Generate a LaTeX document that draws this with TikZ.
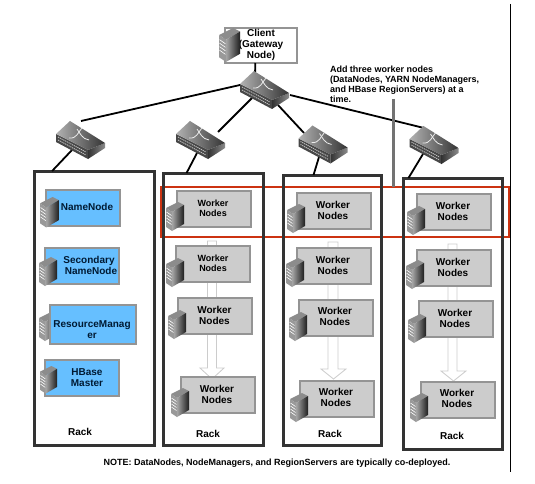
\documentclass[tikz,border=0pt]{standalone}
\usepackage{fontspec}
\setmainfont{Liberation Sans}
\usetikzlibrary{calc}
\definecolor{framegray}{HTML}{333333}
\definecolor{boxedge}{HTML}{949494}
\definecolor{workerfill}{HTML}{CCCCCC}
\definecolor{bluefill}{HTML}{66BFFF}
\definecolor{rednote}{HTML}{CC3311}
\definecolor{bluetext}{HTML}{001A33}
\tikzset{
  x=1pt,y=-1pt,
  every node/.style={outer sep=0pt,inner sep=0pt},
  big/.style={font=\bfseries\fontsize{10}{11}\selectfont,align=center},
  small/.style={font=\bfseries\fontsize{9}{10}\selectfont,align=center},
  rackbox/.style={draw=framegray,line width=3pt,rectangle},
  clientbox/.style={draw=boxedge,line width=2pt,fill=white,rectangle,minimum width=72pt,minimum height=35pt},
  workerbox/.style={draw=boxedge,line width=2pt,fill=workerfill,rectangle,minimum width=74pt,minimum height=36pt},
  bluebox/.style={draw=boxedge,line width=2pt,fill=bluefill,rectangle,minimum width=74pt,minimum height=36pt},
  switchbox/.style={rectangle,minimum width=50pt,minimum height=38pt},
  link/.style={black,line width=1.8pt},
  growth/.style={draw=black!20,fill=white,line width=.8pt},
}
% server icon: top-left position, scale
\newcommand{\srv}[2]{%
  \begin{scope}[shift={(#1)},scale=#2]
    \fill[black!45] (0,6)--(12,0)--(18,3)--(6,10)--cycle;
    \shade[left color=black!35,right color=black!88] (6,10)--(18,3)--(18,22)--(6,29)--cycle;
    \fill[black!40] (0,6)--(6,10)--(6,29)--(0,25)--cycle;
    \foreach \k in {12,15,18,21}{\draw[white,line width=.6pt] (0.5,\k-2)--(5.5,\k+1.5);}
  \end{scope}}
% switch artwork on a named switch node
\newcommand{\swart}[1]{%
  \begin{scope}[shift={(#1.center)}]
    \fill[black!72] (-25,-6)--(7,10)--(7,19)--(-25,2)--cycle;
    \shade[left color=black!80,right color=black!45] (7,10)--(24,3)--(24,8)--(7,19)--cycle;
    \shade[left color=black!30,right color=black!80] (-25,-6)--(-11,-19)--(24,3)--(7,10)--cycle;
    \draw[black!25,line width=.9pt,dash pattern=on 1.2pt off .8pt] (-23,-3)--(5,12);
    \draw[black!25,line width=.9pt,dash pattern=on 1.2pt off .8pt] (-23,0)--(5,15);
    \draw[black!8,line width=.8pt] (-12,-2) .. controls (-4,-1) and (-3,-8) .. (1,-12);
    \draw[black!8,line width=.8pt] (-4,-11) .. controls (-1,-7) and (1,-1) .. (8,0);
  \end{scope}}
% worker box: name, box centre, text centre
\newcommand{\wb}[4][big]{%
  \node[workerbox] (#2) at (#3) {};
  \node[#1] (#2t) at (#4) {Worker\\Nodes};}
\begin{document}
\begin{tikzpicture}
\useasboundingbox (0,0) rectangle (535,484);
\fill[white] (0,0) rectangle (535,484);

% switches and racks (nodes)
\node[switchbox] (s0) at (265,90) {};
\node[switchbox] (s1) at (81,140) {};
\node[switchbox] (s2) at (201,140) {};
\node[switchbox] (s3) at (323.5,144.5) {};
\node[switchbox] (s4) at (434.5,145) {};
\node[rectangle,draw=rednote,line width=2pt,minimum width=347.5pt,minimum height=49.5pt] (red) at (334.75,211.75) {};
\node[rackbox,minimum width=120pt,minimum height=274pt] (rack1) at (94,308) {};
\node[rackbox,minimum width=100pt,minimum height=272pt] (rack2) at (213,309) {};
\node[rackbox,minimum width=98pt,minimum height=270pt] (rack3) at (332.5,310) {};
\node[rackbox,minimum width=99pt,minimum height=271pt] (rack4) at (452.5,313.5) {};

% client
\node[clientbox] (client) at (261,45.5) {};
\node[big] (clientt) at (261,44.5) {Client\\(Gateway\\Node)};
\srv{219,28}{1.17}

% connectors
\draw[link] (client.-108) -- ([shift={(-10,-14)}]s0.center);
\draw[link] ([shift={(-25,-5)}]s0.center) -- ([shift={(0,-19)}]s1.center);
\draw[link] ([shift={(-13,8)}]s0.center) -- ([shift={(17,-8)}]s2.center);
\draw[link] ([shift={(13,15)}]s0.center) -- ([shift={(-19.5,-11.5)}]s3.center);
\draw[link] ([shift={(25,5)}]s0.center) -- ([shift={(-10.5,-17)}]s4.center);
\draw[link] ([shift={(-9,10)}]s1.center) -- (rack1.107.8);
\draw[link] ([shift={(-4,13)}]s2.center) -- (rack2.101.6);
\draw[link] ([shift={(-4.5,12.5)}]s3.center) -- (rack3.98.6);
\draw[link] ([shift={(-11.5,9)}]s4.center) -- (rack4.108.6);
\swart{s0}\swart{s1}\swart{s2}\swart{s3}\swart{s4}

% growth arrows
\draw[growth] (207.5,241)--(216.5,241)--(216.5,368)--(224,368)--(212,379)--(200,368)--(207.5,368)--cycle;
\draw[growth] (328,242)--(338,242)--(338,369)--(346,369)--(333.5,379)--(321,369)--(328,369)--cycle;
\draw[growth] (448,244)--(457,244)--(457,371)--(466,371)--(453.5,381)--(441,371)--(448,371)--cycle;

% rack 1
\node[bluebox] (nn) at (83,208) {};
\node[big,text=bluetext] (nnt) at (87,207) {NameNode};
\srv{40,197}{1.05}
\node[bluebox] (snn) at (81.5,266) {};
\node[big,text=bluetext] (snnt) at (89,265.5) {Secondary\\\hspace*{4pt}NameNode};
\srv{39,257}{1.0}
\srv{39,312}{1.0}
\node[bluebox,minimum width=86pt,minimum height=39pt] (rm) at (93,324.5) {};
\node[big,text=bluetext] (rmt) at (92,329.5) {ResourceManag\\er};
\node[bluebox] (hb) at (81.5,378) {};
\node[big,text=bluetext] (hbt) at (87,377.5) {HBase\\Master};
\srv{40,366}{.95}

% rack 2
\wb[small]{w21}{214,209}{213,208}
\srv{166,202}{1}
\wb[small]{w22}{213,264}{213,263}
\srv{166,258}{1}
\wb{w23}{214.5,316}{214.5,315.5}
\srv{168,310}{1}
\wb{w24}{218,395}{217,394}
\srv{171,388}{1}

% rack 3
\wb{w31}{334,211}{333,210}
\srv{287,204}{1}
\wb{w32}{333.5,266}{333,265.5}
\srv{286,258}{1}
\wb{w33}{336,317.5}{335,316.5}
\srv{289,312}{1}
\wb{w34}{337,399}{336,397}
\srv{290,393}{1}

% rack 4
\wb{w41}{454,212}{453,211}
\srv{407,206}{1}
\wb{w42}{453.5,268}{453,267.5}
\srv{406,260}{1}
\wb{w43}{456,319}{455,318}
\srv{408,314}{1}
\wb{w44}{458,399.5}{457,398}
\srv{410,393}{1}

% rack labels
\node[big] (r1) at (80,432) {Rack};
\node[big] (r2) at (208,434) {Rack};
\node[big] (r3) at (330,434) {Rack};
\node[big] (r4) at (452,436) {Rack};

% annotation
\node[font=\bfseries\fontsize{9}{10}\selectfont,align=left,anchor=north west] (note) at (330,66)
  {Add three worker nodes\\(DataNodes, YARN NodeManagers,\\and HBase RegionServers) at a\\time.};
\coordinate (gtop) at (393,99);
\draw[black!55,line width=3pt] (gtop) -- (gtop |- red.north);

% footer
\node[font=\bfseries\fontsize{9}{10}\selectfont] (foot) at (277,463) {NOTE: DataNodes, NodeManagers, and RegionServers are typically co-deployed.};

% right rule
\coordinate (ruletop) at (510.5,4);
\coordinate (rulebot) at (510.5,472);
\draw[black,line width=1pt] (ruletop) -- (rulebot);
\end{tikzpicture}
\end{document}
